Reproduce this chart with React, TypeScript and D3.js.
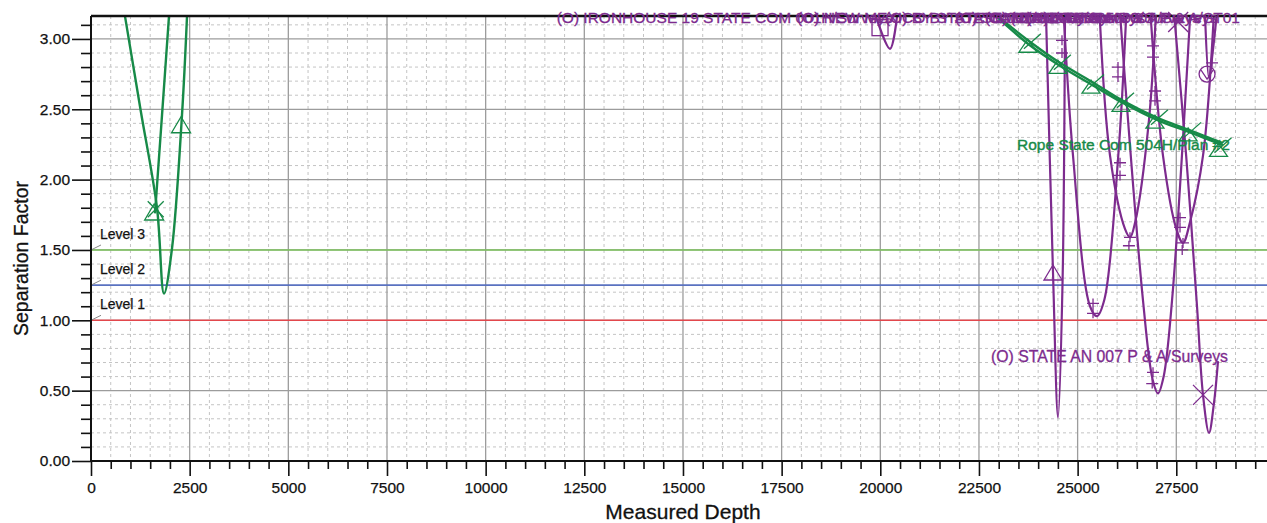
import React, { useEffect, useRef } from 'react';
import * as d3 from 'd3';

// axis ticks
const depthTicks = [0, 2500, 5000, 7500, 10000, 12500, 15000, 17500, 20000, 22500, 25000, 27500];
const sfTicks = [0, 0.5, 1.0, 1.5, 2.0, 2.5, 3.0];

// separation factor levels
const levelNames = ['Level 1', 'Level 2', 'Level 3'];
const levelValues = [1.0, 1.25, 1.5];
const levelColors = ['#e2474c', '#5a72c0', '#7cc35c'];

// green plan curves, [depth, separation factor]
const ropeShallowA = [[862, 3.16], [1260, 2.49], [1672, 1.8], [1850, 1.19], [2052, 1.51], [2306, 2.46], [2433, 3.16]];
const ropeShallowB = [[1622, 1.76], [1800, 2.46], [1976, 3.16]];
const ropePlan = [[22980, 3.16], [23790, 2.98], [24550, 2.83], [25390, 2.69], [26150, 2.56], [27010, 2.44], [27850, 2.35], [28680, 2.26]];
const ropePlanB = [[22940, 3.16], [23790, 2.955], [24550, 2.81], [25390, 2.67], [26150, 2.545], [27010, 2.425], [27850, 2.335], [28680, 2.245]];
const ropeTriangles = [[1600, 1.77], [2282, 2.39]];
const ropeCrosses = [[1640, 1.79]];
const ropePlanMarks = [[23790, 2.98], [24550, 2.83], [25390, 2.69], [26150, 2.56], [27010, 2.44], [27850, 2.35], [28620, 2.24]];

// purple offset wells
const ironhouse = [[19890, 3.16], [20246, 2.93], [20423, 3.16]];
const offsetA = [[24200, 3.16], [24376, 1.34], [24503, 0.31], [24620, 1.3], [24680, 3.16]];
const offsetB = [[24650, 3.16], [24883, 2.17], [25314, 1.1], [25490, 1.03], [25680, 1.15], [26030, 2.17], [26230, 3.16]];
const offsetC = [[25560, 3.16], [25821, 2.17], [26200, 1.65], [26327, 1.59], [26460, 1.7], [26800, 2.4], [26980, 3.16]];
const offsetD = [[26080, 3.16], [26657, 1.14], [26900, 0.58], [27037, 0.48], [27180, 0.6], [27392, 1.14], [27850, 3.16]];
const offsetE = [[26850, 3.16], [27163, 2.17], [27500, 1.65], [27670, 1.55], [27850, 1.7], [28177, 2.17], [28450, 3.16]];
const stateAn007 = [[27450, 3.16], [27750, 2.17], [28025, 1.1], [28177, 0.47], [28329, 0.2], [28450, 0.4], [28557, 0.71]];
const offsetF = [[28230, 3.16], [28330, 2.72], [28420, 2.9], [28520, 3.16]];

const purplePlus = [[24604, 2.99], [24604, 2.9], [26023, 2.8], [26023, 2.73], [26910, 2.95], [26910, 2.87],
  [26961, 2.63], [26961, 2.56], [26074, 2.12], [26074, 2.03], [26327, 1.59], [26300, 1.53],
  [27594, 1.73], [27594, 1.66], [27670, 1.55], [27650, 1.5], [26910, 0.63], [26890, 0.55],
  [25390, 1.12], [25390, 1.05], [28405, 2.83]];
const purpleCrosses = [[28177, 0.47], [27548, 3.12]];
const purpleTriangles = [[24376, 1.34]];
const purpleCircles = [[28280, 2.75]];
const purpleSquares = [[19993, 3.08]];

// well name labels along the top (they pile up in the original too)
const topLabelTexts = [
  '(O) IRONHOUSE 19 STATE COM 001H/Surveys',
  '(O) NEW MEXICO BY STATE 001/Surveys',
  '(O) BY STATE COM 002/Surveys',
  '(O) STATE AN 003/Surveys',
  '(O) STATE AN 005 P & A/Surveys',
  '(O) STATE AN 009/Surveys',
  '(O) STATE AN 007 P & A/ST01',
];
const topLabelDepths = [11800, 17890, 20120, 21890, 22650, 23290, 23700];

const GREEN = '#178a48';
const PURPLE = '#7d2b8e';
const FONT = '"Liberation Sans", Arial, sans-serif';

const App = () => {
  const svgRef = useRef<SVGSVGElement>(null);

  useEffect(() => {
    const svg = d3.select(svgRef.current);
    svg.selectAll('*').remove();

    const width = 1267;
    const height = 523;
    const left = 91;
    const top = 16;
    const bottom = 461;

    const x = d3.scaleLinear().domain([0, 30000]).range([left, left + 30000 * 0.039465]);
    const y = d3.scaleLinear().domain([0, 3.163]).range([bottom, top]);

    svg.attr('width', width).attr('height', height);

    svg.append('defs').append('clipPath').attr('id', 'plotclip')
      .append('rect').attr('x', left).attr('y', top).attr('width', width - left).attr('height', bottom - top);

    // grid
    const grid = svg.append('g');
    const minorX = d3.range(500, 30000, 500).filter(d => d % 2500 !== 0);
    const minorY = d3.range(1, 32).map(d => d / 10).filter(d => Math.round(d * 10) % 5 !== 0);
    grid.selectAll('.mx').data(minorX).enter().append('line')
      .attr('x1', d => x(d)).attr('x2', d => x(d)).attr('y1', top).attr('y2', bottom)
      .style('stroke', '#c4c4c4').style('stroke-dasharray', '3,3').style('stroke-width', 1);
    grid.selectAll('.my').data(minorY).enter().append('line')
      .attr('x1', left).attr('x2', width).attr('y1', d => y(d)).attr('y2', d => y(d))
      .style('stroke', '#c4c4c4').style('stroke-dasharray', '3,3').style('stroke-width', 1);
    grid.selectAll('.MX').data(depthTicks.slice(1)).enter().append('line')
      .attr('x1', d => x(d)).attr('x2', d => x(d)).attr('y1', top).attr('y2', bottom)
      .style('stroke', '#9c9c9c').style('stroke-width', 1.3);
    grid.selectAll('.MY').data(sfTicks.slice(1)).enter().append('line')
      .attr('x1', left).attr('x2', width).attr('y1', d => y(d)).attr('y2', d => y(d))
      .style('stroke', '#9c9c9c').style('stroke-width', 1.3);

    // levels
    levelValues.forEach((v, i) => {
      svg.append('line')
        .attr('x1', left).attr('x2', width).attr('y1', y(v)).attr('y2', y(v))
        .style('stroke', levelColors[i]).style('stroke-width', 1.6);
      svg.append('line')
        .attr('x1', left).attr('x2', left + 10).attr('y1', y(v)).attr('y2', y(v) - 5)
        .style('stroke', '#888').style('stroke-width', 1);
      svg.append('text')
        .attr('x', left + 9).attr('y', y(v) - 11)
        .style('font-family', FONT).style('font-size', '14px').style('fill', '#111')
        .style('stroke', '#111').style('stroke-width', 0.25)
        .text(levelNames[i]);
    });

    // curves
    const plot = svg.append('g').attr('clip-path', 'url(#plotclip)');
    const line = d3.line<number[]>()
      .x(d => x(d[0])).y(d => y(d[1]))
      .curve(d3.curveCatmullRom.alpha(0.5));

    const purpleCurves = [ironhouse, offsetA, offsetB, offsetC, offsetD, offsetE, stateAn007, offsetF];
    purpleCurves.forEach(c => {
      plot.append('path').attr('d', line(c)).style('fill', 'none')
        .style('stroke', PURPLE).style('stroke-width', 2.2);
    });
    [ropeShallowA, ropeShallowB, ropePlan, ropePlanB].forEach(c => {
      plot.append('path').attr('d', line(c)).style('fill', 'none')
        .style('stroke', GREEN).style('stroke-width', 2.4);
    });

    // markers
    const tri = (cx: number, cy: number, w: number, h: number) =>
      `M${cx},${cy - h / 2}L${cx + w / 2},${cy + h / 2}L${cx - w / 2},${cy + h / 2}Z`;
    const cross = (cx: number, cy: number, s: number) =>
      `M${cx - s},${cy - s}L${cx + s},${cy + s}M${cx - s},${cy + s}L${cx + s},${cy - s}`;
    const mk = svg.append('g').style('fill', 'none');

    ropeTriangles.forEach(d => {
      mk.append('path').attr('d', tri(x(d[0]), y(d[1]), 19, 16)).style('stroke', GREEN).style('stroke-width', 1.3);
    });
    ropeCrosses.forEach(d => {
      mk.append('path').attr('d', cross(x(d[0]), y(d[1]), 8)).style('stroke', GREEN).style('stroke-width', 1.3);
    });
    ropePlanMarks.forEach(d => {
      const cx = x(d[0]);
      const cy = y(d[1]);
      mk.append('path').attr('d', tri(cx - 2, cy + 4, 18, 13)).style('stroke', GREEN).style('stroke-width', 1.3);
      mk.append('path').attr('d', `M${cx - 6},${cy + 7}L${cx + 11},${cy - 8}`).style('stroke', GREEN).style('stroke-width', 1.3);
    });

    purplePlus.forEach(d => {
      const cx = x(d[0]);
      const cy = y(d[1]);
      mk.append('path').attr('d', `M${cx - 6},${cy}L${cx + 6},${cy}M${cx},${cy - 5}L${cx},${cy + 5}`)
        .style('stroke', PURPLE).style('stroke-width', 1.3);
    });
    purpleCrosses.forEach(d => {
      mk.append('path').attr('d', cross(x(d[0]), y(d[1]), 10)).style('stroke', PURPLE).style('stroke-width', 1.3);
    });
    purpleTriangles.forEach(d => {
      mk.append('path').attr('d', tri(x(d[0]), y(d[1]), 18, 15)).style('stroke', PURPLE).style('stroke-width', 1.3);
    });
    purpleCircles.forEach(d => {
      const cx = x(d[0]);
      const cy = y(d[1]);
      mk.append('circle').attr('cx', cx).attr('cy', cy).attr('r', 8).style('stroke', PURPLE).style('stroke-width', 1.3);
      mk.append('path').attr('d', `M${cx - 6},${cy - 4}L${cx},${cy + 5}L${cx + 6},${cy - 4}`).style('stroke', PURPLE).style('stroke-width', 1.2);
    });
    purpleSquares.forEach(d => {
      mk.append('rect').attr('x', x(d[0]) - 8).attr('y', y(d[1]) - 8).attr('width', 16).attr('height', 16)
        .style('stroke', PURPLE).style('stroke-width', 1.3);
    });

    // axes
    const xAxis = svg.append('g').attr('transform', `translate(0,${bottom})`)
      .call(d3.axisBottom(x).tickValues(depthTicks).tickSize(15).tickSizeOuter(0).tickPadding(6).tickFormat(d3.format('d')));
    svg.append('g').attr('transform', `translate(0,${bottom})`)
      .call(d3.axisBottom(x).tickValues(minorX).tickSize(8).tickSizeOuter(0).tickFormat(() => ''))
      .select('.domain').remove();
    const yAxis = svg.append('g').attr('transform', `translate(${left},0)`)
      .call(d3.axisLeft(y).tickValues(sfTicks).tickSize(19).tickSizeOuter(0).tickPadding(2).tickFormat(d3.format('.2f')));
    svg.append('g').attr('transform', `translate(${left},0)`)
      .call(d3.axisLeft(y).tickValues(minorY).tickSize(10).tickSizeOuter(0).tickFormat(() => ''))
      .select('.domain').remove();

    [xAxis, yAxis].forEach(a => {
      a.selectAll('text').style('font-family', FONT).style('font-size', '15.5px').style('fill', '#111')
        .style('stroke', '#111').style('stroke-width', 0.25);
      a.select('.domain').style('stroke', '#111').style('stroke-width', 2);
    });
    svg.selectAll('.tick line').style('stroke', '#111').style('stroke-width', 1.6);
    xAxis.select('.domain').attr('d', `M${left},0H${width}`);
    yAxis.select('.domain').attr('d', `M0,${top}V${bottom}`);

    // top frame
    svg.append('line').attr('x1', left).attr('x2', width).attr('y1', top).attr('y2', top)
      .style('stroke', '#111').style('stroke-width', 2.5);

    // labels
    topLabelTexts.forEach((t, i) => {
      svg.append('text')
        .attr('x', x(topLabelDepths[i])).attr('y', top + 7)
        .style('font-family', FONT).style('font-size', '15.5px').style('fill', PURPLE)
        .style('stroke', PURPLE).style('stroke-width', 0.3)
        .text(t);
    });
    const annEnd = stateAn007[stateAn007.length - 1];
    svg.append('text')
      .attr('x', x(annEnd[0]) + 10).attr('y', y(annEnd[1]) + 1)
      .attr('text-anchor', 'end')
      .style('font-family', FONT).style('font-size', '15.8px').style('fill', PURPLE)
      .style('stroke', PURPLE).style('stroke-width', 0.3)
      .text('(O) STATE AN 007 P & A/Surveys');
    const ropeEnd = ropePlan[ropePlan.length - 1];
    svg.append('text')
      .attr('x', x(ropeEnd[0]) + 7).attr('y', y(ropeEnd[1]) + 7)
      .attr('text-anchor', 'end')
      .style('font-family', FONT).style('font-size', '15.5px').style('fill', GREEN)
      .style('stroke', GREEN).style('stroke-width', 0.4)
      .text('Rope State Com 504H/Plan #2');

    svg.append('text')
      .attr('x', 683).attr('y', 519)
      .attr('text-anchor', 'middle')
      .style('font-family', FONT).style('font-size', '21px').style('fill', '#111')
      .style('stroke', '#111').style('stroke-width', 0.3)
      .text('Measured Depth');
    svg.append('text')
      .attr('transform', `translate(28,${(top + bottom) / 2 + 20}) rotate(-90)`)
      .attr('text-anchor', 'middle')
      .style('font-family', FONT).style('font-size', '19.5px').style('fill', '#111')
      .style('stroke', '#111').style('stroke-width', 0.3)
      .text('Separation Factor');
  }, []);

  return (
    <svg ref={svgRef} style={{ position: 'absolute', left: 0, top: 0, display: 'block', background: '#fff' }}></svg>
  );
};

export default App;
